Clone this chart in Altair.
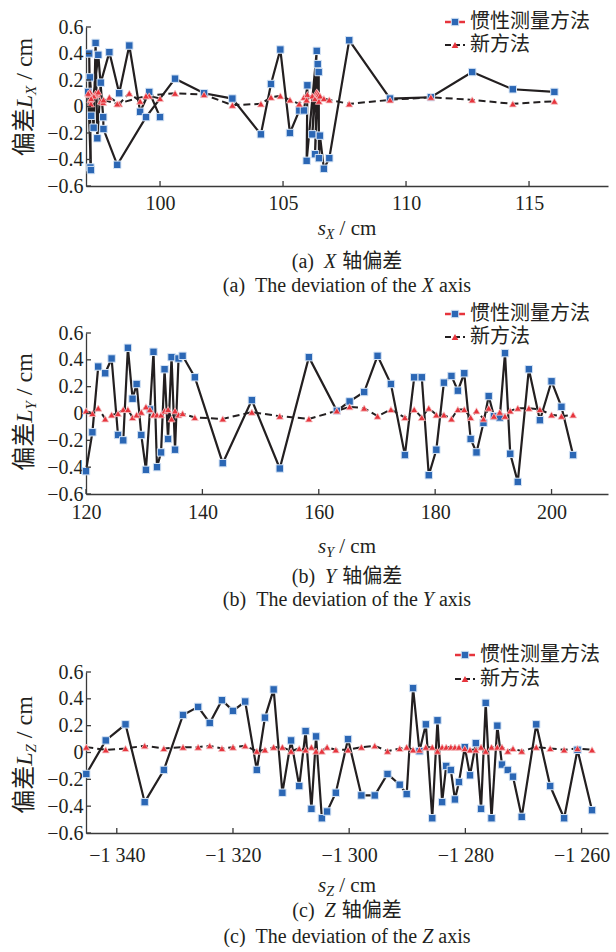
import altair as alt
import pandas as pd

# ---------------- data ----------------
# (a) X axis deviation, in measurement order
a_s = [100.00, 99.56, 99.19, 98.75, 98.34, 97.94, 97.59, 97.45, 97.38, 97.30,
       97.15, 97.17, 97.12, 97.19, 97.08, 97.20, 97.49, 97.69, 97.70, 98.26,
       99.43, 100.61, 101.79, 102.94, 104.10, 104.51, 104.89, 105.28, 105.66, 105.85,
       105.99, 105.96, 106.37, 106.19, 106.41, 106.30, 106.45, 106.46, 106.50, 106.66,
       106.88, 107.69, 109.35, 111.01, 112.69, 114.34, 116.03]
a_inertial = [-0.08, 0.11, -0.04, 0.46, 0.10, 0.41, 0.18, -0.24, 0.48, -0.16,
              0.22, -0.46, 0.40, -0.48, 0.11, -0.07, 0.39, -0.08, -0.17, -0.44,
              -0.08, 0.21, 0.10, 0.06, -0.21, 0.17, 0.43, -0.20, -0.03, -0.03,
              0.16, -0.41, 0.42, -0.21, 0.32, -0.36, 0.26, -0.39, -0.22, -0.47,
              -0.39, 0.50, 0.06, 0.07, 0.26, 0.13, 0.11]
a_new = [0.06, 0.08, 0.04, 0.10, 0.02, 0.07, 0.04, 0.09, 0.10, 0.08,
         0.11, 0.05, 0.09, 0.02, 0.10, 0.06, 0.11, 0.03, 0.05, 0.02,
         0.08, 0.10, 0.09, 0.01, 0.02, 0.07, 0.08, 0.05, 0.02, 0.07,
         0.09, 0.05, 0.11, 0.08, 0.10, 0.06, 0.09, 0.04, 0.08, 0.06,
         0.05, 0.02, 0.05, 0.07, 0.05, 0.02, 0.04]

# (b) Y axis deviation
b_s = [120.0, 121.1, 122.1, 123.3, 124.4, 125.5, 126.4, 127.2, 128.0, 128.7,
       129.5, 130.3, 131.0, 131.6, 132.2, 132.9, 133.5, 134.1, 134.7, 135.3,
       135.9, 136.6, 138.7, 143.5, 148.5, 153.3, 158.3, 163.1, 165.3, 167.8,
       170.1, 172.4, 174.8, 176.4, 177.7, 178.9, 180.2, 181.5, 182.8, 183.9,
       185.0, 186.1, 187.1, 188.3, 189.2, 190.1, 191.1, 192.0, 192.9, 194.2,
       196.1, 198.0, 200.0, 201.7, 203.7]
b_inertial = [-0.43, -0.14, 0.35, 0.30, 0.41, -0.16, -0.20, 0.49, 0.11, 0.22,
              -0.16, -0.42, 0.03, 0.46, -0.40, -0.29, 0.33, -0.19, 0.42, -0.27,
              0.41, 0.43, 0.27, -0.37, 0.10, -0.41, 0.42, 0.02, 0.09, 0.16,
              0.43, 0.22, -0.31, 0.27, 0.27, -0.46, -0.27, 0.23, 0.28, 0.17,
              0.30, -0.19, -0.29, -0.07, 0.13, -0.02, -0.03, 0.45, -0.30, -0.51,
              0.33, -0.05, 0.24, 0.05, -0.31]
b_new = [0.02, 0.00, 0.04, -0.04, -0.01, 0.00, 0.03, 0.03, -0.03, -0.01,
         0.01, 0.05, 0.03, -0.01, -0.01, -0.01, 0.02, 0.03, -0.04, 0.02,
         -0.01, 0.00, -0.03, -0.04, 0.01, -0.02, -0.04, 0.02, 0.05, 0.04,
         -0.02, 0.03, -0.03, 0.03, -0.03, 0.04, -0.01, -0.01, -0.04, 0.03,
         0.03, -0.03, 0.02, -0.04, 0.04, -0.02, 0.01, -0.02, 0.02, 0.04,
         0.04, 0.03, -0.01, -0.02, -0.01]

# (c) Z axis deviation
c_s = [-1345.25, -1341.9, -1338.5, -1335.2, -1331.9, -1328.6, -1326.0, -1324.0, -1321.9, -1320.0,
       -1317.9, -1315.9, -1314.5, -1313.0, -1311.5, -1310.0, -1308.6, -1307.5, -1306.5, -1305.7,
       -1304.7, -1303.8, -1302.3, -1300.2, -1297.9, -1295.6, -1293.4, -1291.3, -1290.1, -1289.0,
       -1287.9, -1286.8, -1285.7, -1284.8, -1284.0, -1283.3, -1282.5, -1281.8, -1281.1, -1280.1,
       -1279.2, -1278.2, -1277.3, -1276.5, -1275.5, -1274.5, -1273.7, -1272.7, -1271.8, -1270.3,
       -1267.8, -1265.4, -1263.0, -1260.7, -1258.2]
c_inertial = [-0.16, 0.09, 0.21, -0.37, -0.13, 0.28, 0.34, 0.22, 0.39, 0.31,
              0.38, -0.13, 0.26, 0.47, -0.30, 0.09, -0.25, 0.16, -0.42, 0.12,
              -0.49, -0.44, -0.30, 0.10, -0.32, -0.32, -0.16, -0.24, -0.31, 0.48,
              0.01, 0.21, -0.49, 0.24, -0.37, -0.10, -0.13, -0.35, -0.22, 0.04,
              -0.17, 0.07, -0.42, 0.37, -0.49, 0.20, -0.09, -0.13, -0.18, -0.48,
              0.21, -0.25, -0.49, 0.02, -0.43]
c_new = [0.04, 0.02, 0.03, 0.05, 0.03, 0.04, 0.04, 0.05, 0.03, 0.04,
         0.05, 0.01, 0.02, 0.04, 0.04, 0.01, 0.03, 0.02, 0.04, 0.01,
         0.01, 0.04, 0.02, 0.02, 0.04, 0.05, 0.01, 0.03, 0.04, 0.02,
         0.02, 0.04, 0.04, 0.01, 0.04, 0.04, 0.04, 0.04, 0.04, 0.03,
         0.02, 0.02, 0.04, 0.01, 0.04, 0.04, 0.04, 0.01, 0.03, 0.01,
         0.04, 0.03, 0.02, 0.03, 0.02]

y_ticks = [-0.6, -0.4, -0.2, 0.0, 0.2, 0.4, 0.6]
a_ticks = [100, 105, 110, 115]
b_ticks = [120, 140, 160, 180, 200]
c_ticks = [-1340, -1320, -1300, -1280, -1260]
series_names = ["惯性测量方法", "新方法"]

# ---------------- styling ----------------
SERIF = "Liberation Serif"
CJK = "Noto Sans CJK SC"
INK = "#231f20"
AXIS = "#3a3a3a"
BLUE = "#2b67b5"
RED = "#e6343c"
W = 522
LEFT = 86

REG = {' ': 250, '(': 333, ')': 333, 'a': 444, 'b': 500, 'c': 444, 'T': 611, 'h': 500,
       'e': 444, 'd': 500, 'v': 500, 'i': 278, 't': 278, 'o': 500, 'n': 500, 'f': 333,
       'x': 500, 's': 389, '/': 278, 'm': 778}
ITA = {'X': 611, 'Y': 556, 'Z': 556, 's': 389, 'L': 556}

one = pd.DataFrame({"k": [0]})


def seg_width(seg):
    text, size, kind = seg[0], seg[1], seg[2]
    if kind == "gap":
        return text * size
    if kind == "cjk":
        return len(text) * size
    table = ITA if kind == "ita" else REG
    return sum(table.get(ch, REG.get(ch, 500)) for ch in text) * size / 1000.0


def tmark(text, x, y, size, kind, angle=None):
    kw = dict(text=text, fontSize=size, align="left", baseline="alphabetic", color=INK,
              font=CJK if kind == "cjk" else SERIF)
    if kind == "ita":
        kw["fontStyle"] = "italic"
    if angle is not None:
        kw["angle"] = angle
    return alt.Chart(one).mark_text(**kw).encode(x=alt.value(x), y=alt.value(y))


def row(segs, cx, base, ox, oy):
    total = sum(seg_width(s) for s in segs)
    x = cx - total / 2.0
    out = []
    for s in segs:
        w = seg_width(s)
        if s[2] != "gap":
            shift = s[3] if len(s) > 3 else 0
            out.append(tmark(s[0], x - ox, base + shift - oy, s[1], s[2]))
        x += w
    return out


def col(segs, bx, cy, ox, oy):
    total = sum(seg_width(s) for s in segs)
    y = cy + total / 2.0
    out = []
    for s in segs:
        w = seg_width(s)
        if s[2] != "gap":
            shift = s[3] if len(s) > 3 else 0
            out.append(tmark(s[0], bx + shift - ox, y - oy, s[1], s[2], angle=270))
        y -= w
    return out


Y_EXPR = "datum.value == 0 ? '0' : replace(format(datum.value, '.1f'), '-', '\u2212')"


def panel(letter, axis_letter, s, inertial, new, domain, xticks, top, H, yrange,
          label_pad, legend, ytitle_cy, xtitle_base, cap1_base, cap2_base, xexpr=None):
    ox, oy = LEFT, top
    df = pd.DataFrame({"s": s, "inertial": inertial, "new": new, "i": list(range(len(s)))})
    xs = alt.Scale(domain=domain, nice=False, zero=False)
    ys = alt.Scale(domain=[-0.6, 0.6], range=yrange, nice=False, zero=False)
    xa = dict(values=xticks, ticks=False, grid=False, title=None, labelFont=SERIF,
              labelFontSize=20, labelColor=INK, labelPadding=label_pad, domainColor=AXIS,
              domainWidth=1.3, labelOverlap=False, labelFlush=False)
    if xexpr:
        xa["labelExpr"] = xexpr
    ya = dict(values=y_ticks, ticks=False, grid=False, title=None, labelFont=SERIF,
              labelFontSize=20, labelColor=INK, labelPadding=3, domainColor=AXIS,
              domainWidth=1.3, labelOverlap=False, labelFlush=False, labelExpr=Y_EXPR)
    XAX = alt.Axis(**xa)
    YAX = alt.Axis(**ya)
    X = alt.X("s:Q", scale=xs, axis=XAX)
    base = alt.Chart(df)
    layers = []
    if letter == "a":
        layers.append(alt.Chart(one).mark_rect(color="white").encode(
            x=alt.value(-LEFT), x2=alt.value(616 - LEFT), y=alt.value(-27), y2=alt.value(-22)))
    layers += [
        base.mark_line(color=INK, strokeWidth=2.2).encode(
            x=X, y=alt.Y("inertial:Q", scale=ys, axis=YAX), order="i:Q"),
        base.mark_line(color=INK, strokeWidth=2, strokeDash=[7, 4]).encode(
            x=X, y=alt.Y("new:Q", scale=ys, axis=YAX), order="i:Q"),
        base.mark_point(shape="square", filled=True, fill=BLUE, stroke="#d6e4f5",
                        strokeWidth=1, size=55, opacity=1).encode(
            x=X, y=alt.Y("inertial:Q", scale=ys, axis=YAX)),
        base.mark_point(shape="triangle-up", filled=True, fill=RED, stroke="#f6c7c9",
                        strokeWidth=0.8, size=50, opacity=1).encode(
            x=X, y=alt.Y("new:Q", scale=ys, axis=YAX)),
    ]
    # inward tick marks
    ytk = pd.DataFrame({"v": y_ticks})
    layers.append(alt.Chart(ytk).mark_rule(color=AXIS, strokeWidth=1.3).encode(
        y=alt.Y("v:Q", scale=ys, axis=YAX), x=alt.value(0), x2=alt.value(5)))
    xtk = pd.DataFrame({"v": xticks})
    layers.append(alt.Chart(xtk).mark_rule(color=AXIS, strokeWidth=1.3).encode(
        x=alt.X("v:Q", scale=xs, axis=XAX), y=alt.value(H), y2=alt.value(H - 5)))
    # legend (page coordinates)
    sx1, sx2, tx, ly1, ly2 = legend
    mid = (sx1 + sx2) / 2.0
    layers.append(alt.Chart(one).mark_rule(color=RED, strokeWidth=2.5).encode(
        x=alt.value(sx1 - ox), x2=alt.value(sx2 - ox), y=alt.value(ly1 - oy)))
    layers.append(alt.Chart(one).mark_point(shape="square", filled=True, fill=BLUE, stroke="#d6e4f5",
                                            strokeWidth=1, size=55, opacity=1).encode(
        x=alt.value(mid - ox), y=alt.value(ly1 - oy)))
    layers.append(alt.Chart(one).mark_rule(color=INK, strokeWidth=2, strokeDash=[6, 3]).encode(
        x=alt.value(sx1 - ox), x2=alt.value(sx2 - ox), y=alt.value(ly2 - oy)))
    layers.append(alt.Chart(one).mark_point(shape="triangle-up", filled=True, fill=RED,
                                            size=45, opacity=1).encode(
        x=alt.value(mid - ox), y=alt.value(ly2 - oy)))
    layers.append(alt.Chart(one).mark_text(text=series_names[0], font=CJK, fontSize=20, color=INK,
                                           align="left", baseline="middle").encode(
        x=alt.value(tx - ox), y=alt.value(ly1 - oy)))
    layers.append(alt.Chart(one).mark_text(text=series_names[1], font=CJK, fontSize=20, color=INK,
                                           align="left", baseline="middle").encode(
        x=alt.value(tx - ox), y=alt.value(ly2 - oy)))
    # y title (rotated)
    layers += col([("偏差", 24, "cjk"), ("L", 24, "ita"), (axis_letter, 15, "ita", 4),
                   (0.25, 24, "gap"), ("/ cm", 24, "reg")], 32, ytitle_cy, ox, oy)
    # x title
    cx = LEFT + W / 2.0
    layers += row([("s", 21, "ita"), (axis_letter, 14, "ita", 4), (0.25, 21, "gap"),
                   ("/ cm", 21, "reg")], cx, xtitle_base, ox, oy)
    # captions
    layers += row([("(" + letter + ")", 20, "reg"), (0.5, 20, "gap"), (axis_letter, 20, "ita"),
                   (0.3, 20, "gap"), ("轴偏差", 20, "cjk")], cx, cap1_base, ox, oy)
    layers += row([("(" + letter + ")", 20, "reg"), (0.5, 20, "gap"),
                   ("The deviation of the", 20, "reg"), (0.25, 20, "gap"),
                   (axis_letter, 20, "ita"), (0.25, 20, "gap"), ("axis", 20, "reg")],
                  cx, cap2_base, ox, oy)
    return alt.layer(*layers).properties(width=W, height=H)


pa = panel("a", "X", a_s, a_inertial, a_new, [96.99, 118.21], a_ticks, 27, 159, [159, 0],
           7, (445, 465, 470, 22, 45), 97, 235, 268, 292)
pb = panel("b", "Y", b_s, b_inertial, b_new, [120, 209.7], b_ticks, 333, 161, [161, 0],
           8, (445, 465, 470, 314, 337), 412, 553, 583, 606)
C_EXPR = "'\u2212' + floor(abs(datum.value) / 1000) + ' ' + substring(toString(abs(datum.value)), 1)"
pc = panel("c", "Z", c_s, c_inertial, c_new, [-1345.3, -1255.45], c_ticks, 641, 192, [192, 31],
           12, (455, 475, 480, 655, 679), 755, 892, 917, 943, xexpr=C_EXPR)

chart = alt.vconcat(pa, pb, pc, spacing=147, bounds="flush").properties(
    padding=0, background="white"
).configure_view(stroke=None)

chart.save("out.html", embed_options={"renderer": "svg", "actions": False})
